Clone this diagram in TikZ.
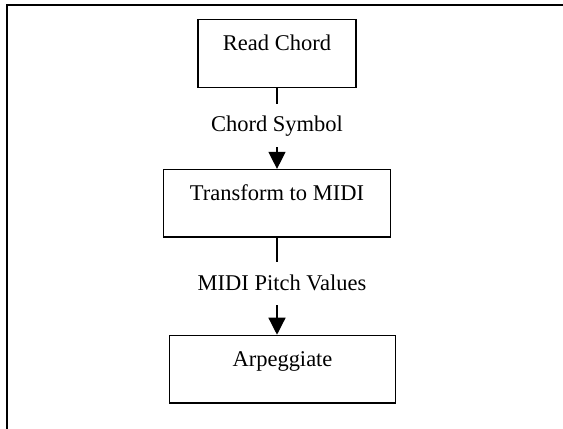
\documentclass[tikz,border=0pt]{standalone}
\usepackage{fontspec}
\setmainfont{Liberation Serif}
\usetikzlibrary{positioning,arrows.meta}

\begin{document}
\begin{tikzpicture}[
      >={Triangle[width=3.4mm,length=3.4mm]},
      font=\fontsize{12.8}{15}\selectfont
    ]

    \tikzstyle{box} = [rectangle, draw=black, line width=0.75pt, minimum height=1.35cm, text height=0.3cm, text depth=0.4cm, text centered]

    \tikzstyle{arrow} = [line width=0.75pt, ->]

    \tikzstyle{tag} = [fill=white, inner sep=2pt, minimum height=0.86cm]

    \useasboundingbox (0,0) rectangle (11.26,-8.58);
    \draw [line width=0.8pt] (0.14,-8.58) |- (11.26,-0.10);

    \node [box, minimum width=3.16cm] (read) at (5.54,-1.07) {Read Chord};

    \node [box, minimum width=4.54cm] (transform) [node distance=1.62cm, below=of read] {Transform to MIDI};

    \node [box, minimum width=4.52cm] (arpeggiate) [node distance=1.94cm, below=of transform, xshift=0.11cm] {Arpeggiate};

    \draw [arrow] (read) -- (transform) node[tag, pos=0.47] {Chord Symbol};
    \draw [arrow] (transform.south) -- (transform.south |- arpeggiate.north) node[tag, pos=0.47, xshift=0.1cm] {MIDI Pitch Values};

\end{tikzpicture}
\end{document}
